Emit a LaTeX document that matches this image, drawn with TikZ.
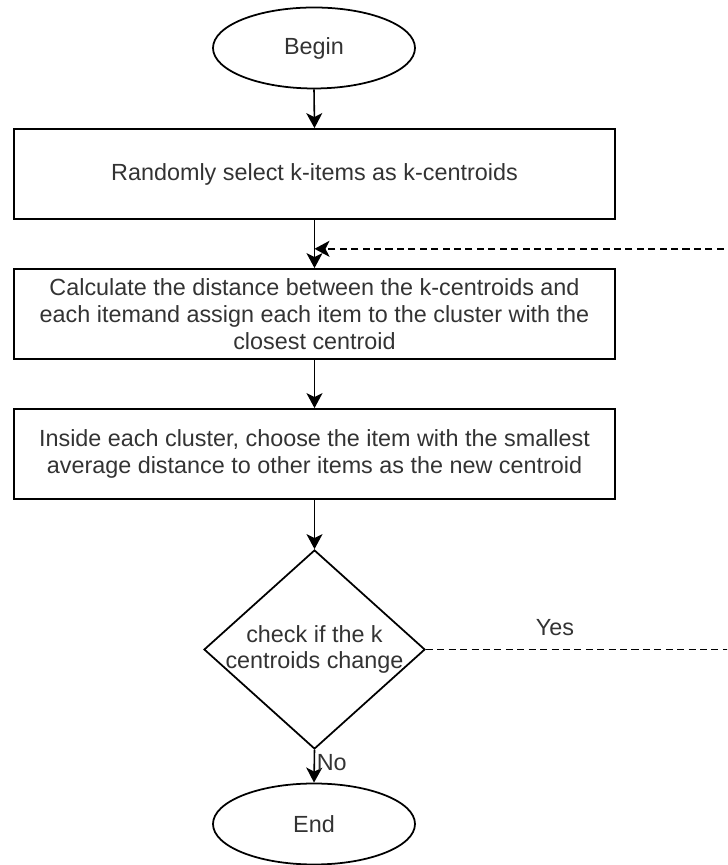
\documentclass[tikz,border=0pt]{standalone}
\usepackage{fontspec}
\setmainfont{Liberation Sans}
\usetikzlibrary{shapes.geometric,positioning,calc,arrows.meta}

\begin{document}
\begin{tikzpicture}[
  font=\fontsize{13.3}{15.3}\selectfont,
  terminal/.style={ellipse, draw=black, line width=1pt, minimum width=4.04cm, minimum height=1.62cm, inner sep=0pt, text=black!80},
  process/.style={rectangle, draw=black, line width=1pt, minimum width=12.02cm, minimum height=1.8cm, inner sep=0pt, align=center, text=black!80},
  decision/.style={diamond, draw=black, line width=1pt, minimum width=4.42cm, minimum height=3.98cm, inner sep=0pt},
  flow/.style={line width=0.9pt, -{Stealth[length=0.3cm, width=0.32cm, inset=0.08cm]}},
  loopback/.style={flow, dash pattern=on 4pt off 2.5pt}
]
  \useasboundingbox (0,0) rectangle (14.54,17.3);
  \clip (0,0) rectangle (14.54,17.3);

  % Begin and first step
  \node[terminal] (begin) at (6.28, 16.34) {Begin};
  \node[process] (select) at (6.29, 13.82) {Randomly select k-items as k-centroids};
  \draw[flow] (begin.south) -- (select.north);

  % Assign items to clusters
  \node[process] (assign) at (6.29, 11.02) {Calculate the distance between the k-centroids and\\each itemand assign each item to the cluster with the\\closest centroid};
  \coordinate (merge) at ($(select.south)!0.6!(assign.north)$);
  \draw[flow] (select.south) -- (assign.north);

  % New centroid inside each cluster
  \node[process] (update) at (6.29, 8.22) {Inside each cluster, choose the item with the smallest\\average distance to other items as the new centroid};
  \draw[flow] (assign.south) -- (update.north);

  % Decision
  \node[decision] (check) at (6.29, 4.31) {};
  \node[align=center, text=black!80] (checktext) at (check.center) {check if the k\\centroids change};
  \draw[flow] (update.south) -- (check.north);

  % Yes: back to the assignment step
  \draw[loopback] (check.east) -- (14.8, 4.31) |- (merge);
  \node[text=black!80] (yes) at (11.10, 4.74) {Yes};

  % No: end
  \node[terminal] (end) at (6.28, 0.82) {End};
  \draw[flow] (check.south) -- node[right, pos=0.4, inner sep=1pt, text=black!80] (no) {No} (end.north);
\end{tikzpicture}
\end{document}
